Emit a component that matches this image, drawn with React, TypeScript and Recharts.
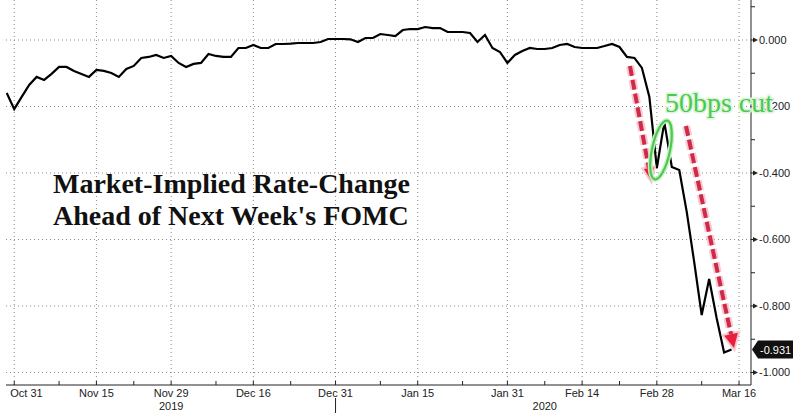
import React from 'react';
import { LineChart, Line, XAxis, YAxis, CartesianGrid, ReferenceLine } from 'recharts';

// weekday index 0 = Oct 30 2019 ... 97 = Mar 13 2020
const rateChange = [
  -0.159, -0.208, -0.171, -0.135, -0.111, -0.120, -0.102, -0.081, -0.081, -0.093,
  -0.102, -0.111, -0.090, -0.093, -0.099, -0.111, -0.087, -0.078, -0.054, -0.051,
  -0.045, -0.054, -0.048, -0.069, -0.081, -0.072, -0.069, -0.042, -0.048, -0.051,
  -0.051, -0.024, -0.024, -0.015, -0.024, -0.024, -0.012, -0.012, -0.011, -0.009,
  -0.009, -0.009, -0.006, 0.003, 0.003, 0.003, 0.002, -0.006, 0.006, 0.006,
  0.018, 0.015, 0.012, 0.030, 0.033, 0.033, 0.039, 0.036, 0.036, 0.024,
  0.024, 0.024, 0.021, -0.006, 0.015, -0.024, -0.036, -0.069, -0.045, -0.033,
  -0.024, -0.027, -0.027, -0.024, -0.015, -0.012, -0.021, -0.024, -0.024, -0.024,
  -0.018, -0.012, -0.021, -0.051, -0.054, -0.084, -0.171, -0.385, -0.247, -0.382,
  -0.391, -0.517, -0.668, -0.827, -0.719, -0.836, -0.940, -0.931,
];

const majorTicks = [1, 12, 22, 33, 44, 55, 67, 77, 87, 98];
const majorLabels = ['Oct 31', 'Nov 15', 'Nov 29', 'Dec 16', 'Dec 31', 'Jan 15', 'Jan 31', 'Feb 14', 'Feb 28', 'Mar 16'];
const minorTicks = [7, 17, 28, 38, 50, 61, 72, 82, 93];
const yearAt = [22, 72];
const yearLabels = ['2019', '2020'];
const yearBreak = 44;

const yTicks = [0.1, 0, -0.1, -0.2, -0.3, -0.4, -0.5, -0.6, -0.7, -0.8, -0.9, -1.0];
const yGrid = [0, -0.2, -0.4, -0.6, -0.8, -1.0];

const data = rateChange.map((v, i) => ({ i, v }));
const lastValue = rateChange[rateChange.length - 1];

const AXIS_FONT = '"Liberation Sans", Arial, sans-serif';

function XTick(props: any) {
  const { x, y, payload } = props;
  const val = payload.value;
  const mi = majorTicks.indexOf(val);
  const yi = yearAt.indexOf(val);
  return (
    <g>
      <line x1={x} x2={x} y1={y - 4} y2={y} stroke="#222" strokeWidth={1} />
      {mi >= 0 && (
        <text x={mi === 0 ? x - 4 : x} y={y + 12} textAnchor={mi === 0 ? 'start' : 'middle'} fontSize={11} fontFamily={AXIS_FONT} fill="#222">
          {majorLabels[mi]}
        </text>
      )}
      {yi >= 0 && (
        <text x={x} y={y + 25} textAnchor="middle" fontSize={11} fontFamily={AXIS_FONT} fill="#222">
          {yearLabels[yi]}
        </text>
      )}
      {val === yearBreak && <line x1={x} x2={x} y1={y + 13} y2={y + 28} stroke="#222" strokeWidth={1} />}
    </g>
  );
}

function YTick(props: any) {
  const { x, y, payload } = props;
  const v = payload.value;
  const major = Math.round(v * 10) % 2 === 0;
  if (!major) {
    return <line x1={x} x2={x + 4} y1={y} y2={y} stroke="#222" strokeWidth={1} />;
  }
  return (
    <g>
      <line x1={x} x2={x + 3} y1={y} y2={y} stroke="#222" strokeWidth={1} />
      <polygon points={`${x + 2},${y - 2.5} ${x + 7},${y} ${x + 2},${y + 2.5}`} fill="#222" />
      <text x={x + 8} y={y + 4} fontSize={11} fontFamily={AXIS_FONT} fill="#222">
        {Math.abs(v) < 1e-9 ? '0.000' : v.toFixed(3)}
      </text>
    </g>
  );
}

function LastTag(props: any) {
  const { viewBox } = props;
  if (!viewBox) return null;
  const left = viewBox.x + viewBox.width + 1;
  const y = viewBox.y;
  return (
    <g>
      <polygon
        points={`${left},${y} ${left + 6},${y - 9} ${left + 41},${y - 9} ${left + 41},${y + 9} ${left + 6},${y + 9}`}
        fill="#111"
      />
      <text x={left + 8} y={y + 4} fontSize={11} fontFamily={AXIS_FONT} fill="#fff">
        {lastValue.toFixed(3)}
      </text>
    </g>
  );
}

function arrow(x1: number, y1: number, x2: number, y2: number, len: number, hw: number) {
  const dx = x2 - x1;
  const dy = y2 - y1;
  const d = Math.sqrt(dx * dx + dy * dy);
  const ux = dx / d;
  const uy = dy / d;
  const bx = x2 - ux * len;
  const by = y2 - uy * len;
  const pts = `${x2},${y2} ${bx - uy * hw},${by + ux * hw} ${bx + uy * hw},${by - ux * hw}`;
  return { bx, by, pts };
}

function DashedArrow({ x1, y1, x2, y2, len, hw }: any) {
  const a = arrow(x1, y1, x2, y2, len, hw);
  return (
    <g>
      <line x1={x1} y1={y1} x2={a.bx} y2={a.by} stroke="#f6b8c3" strokeWidth={8} strokeDasharray="10 4" opacity={0.75} />
      <polygon points={a.pts} fill="#f6b8c3" stroke="#f6b8c3" strokeWidth={4} opacity={0.75} />
      <line x1={x1} y1={y1} x2={a.bx} y2={a.by} stroke="#cf2a48" strokeWidth={4} strokeDasharray="10 4" />
      <polygon points={a.pts} fill="#e8203c" />
    </g>
  );
}

export default function App() {
  return (
    <div style={{ position: 'absolute', left: 0, top: 0, width: 800, height: 413, background: '#fff' }}>
      <LineChart width={800} height={413} data={data} margin={{ top: 0, right: 0, left: 6, bottom: 0 }}>
        <CartesianGrid
          stroke="#8a8a8a"
          strokeDasharray="1 3"
          horizontalValues={yGrid}
          verticalValues={majorTicks}
        />
        <XAxis
          dataKey="i"
          type="number"
          domain={[-0.1, 99.6]}
          allowDataOverflow
          ticks={[...majorTicks, ...minorTicks].sort((a, b) => a - b)}
          interval={0}
          height={28}
          tickSize={0}
          tickMargin={0}
          tickLine={false}
          axisLine={{ stroke: '#222' }}
          tick={<XTick />}
        />
        <YAxis
          orientation="right"
          type="number"
          domain={[-1.0376, 0.1203]}
          allowDataOverflow
          ticks={yTicks}
          interval={0}
          width={49}
          tickSize={0}
          tickMargin={0}
          tickLine={false}
          axisLine={{ stroke: '#222' }}
          tick={<YTick />}
        />
        <ReferenceLine y={lastValue} stroke="none" label={<LastTag />} />
        <Line
          type="linear"
          dataKey="v"
          stroke="#000"
          strokeWidth={2.2}
          dot={false}
          isAnimationActive={false}
        />
      </LineChart>
      <svg width={800} height={413} style={{ position: 'absolute', left: 0, top: 0, pointerEvents: 'none' }}>
        <text x={53} y={193} fontSize={28} fontWeight="bold" fontFamily='"Liberation Serif", "Times New Roman", serif' fill="#111">
          Market-Implied Rate-Change
        </text>
        <text x={53} y={225} fontSize={28} fontWeight="bold" fontFamily='"Liberation Serif", "Times New Roman", serif' fill="#111">
          Ahead of Next Week's FOMC
        </text>
        <DashedArrow x1={630} y1={66} x2={651} y2={180} len={12} hw={5} />
        <DashedArrow x1={686} y1={126} x2={734} y2={348} len={14} hw={7} />
        <ellipse cx={661} cy={150} rx={9} ry={30} transform="rotate(12 661 150)" fill="none" stroke="#c9f1c9" strokeWidth={5} />
        <ellipse cx={661} cy={150} rx={9} ry={30} transform="rotate(12 661 150)" fill="none" stroke="#4cc94c" strokeWidth={2.2} />
        <text
          x={665}
          y={112}
          fontSize={27}
          textLength={108}
          lengthAdjust="spacingAndGlyphs"
          fontFamily='"Liberation Serif", "Times New Roman", serif'
          fill="#4cc94c"
          stroke="#dcf5dc"
          strokeWidth={3}
          paintOrder="stroke"
        >
          50bps cut
        </text>
      </svg>
    </div>
  );
}
